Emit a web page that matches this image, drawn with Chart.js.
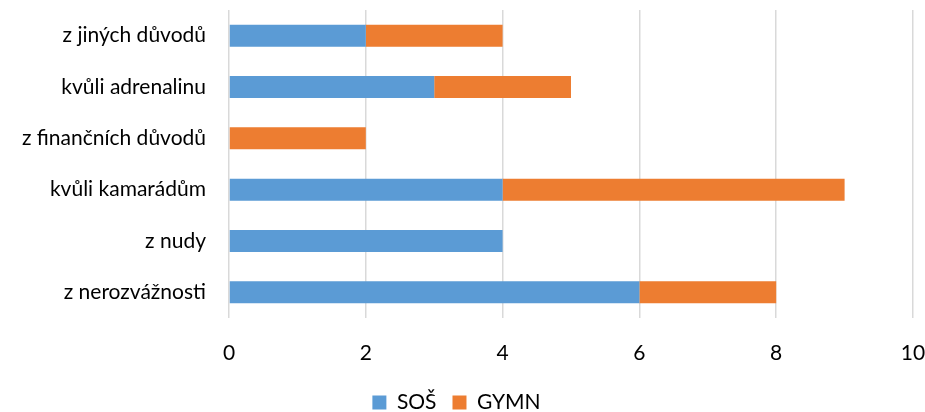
<!DOCTYPE html>
<html lang="cs">
<head>
  <meta charset="UTF-8">
  <title>Důvody</title>
  <script src="https://cdn.jsdelivr.net/npm/chart.js"></script>
  <style>
    body { margin: 0; background: #fff; }
    #wrap { width: 925px; height: 412px; }
  </style>
</head>
<body>
  <div id="wrap"><canvas id="chart" width="925" height="412"></canvas></div>
  <script>
    // categories top to bottom
    const categories = ['z jiných důvodů', 'kvůli adrenalinu', 'z finančních důvodů', 'kvůli kamarádům', 'z nudy', 'z nerozvážnosti'];
    const sosValues = [2, 3, 0, 4, 4, 6];
    const gymnValues = [2, 2, 2, 5, 0, 2];
    const xTicks = [0, 2, 4, 6, 8, 10];

    const font = { family: 'Lato, "Open Sans", sans-serif', size: 21 };

    new Chart(document.getElementById('chart'), {
      type: 'bar',
      data: {
        labels: categories,
        datasets: [
          { label: 'SOŠ', data: sosValues, backgroundColor: '#5B9BD5' },
          { label: 'GYMN', data: gymnValues, backgroundColor: '#ED7D31' }
        ]
      },
      options: {
        indexAxis: 'y',
        responsive: false,
        animation: false,
        barPercentage: 0.43,
        categoryPercentage: 1,
        // negative bottom pushes the legend down a bit, like in the original
        layout: { padding: { top: 10, right: 12, left: 0, bottom: -11 } },
        scales: {
          x: {
            stacked: true,
            min: 0,
            max: 10,
            afterBuildTicks: axis => { axis.ticks = xTicks.map(v => ({ value: v })); },
            afterFit: axis => {
              axis.height = 58;
              axis.paddingLeft = 0;
              axis.paddingRight = 0;
            },
            grid: { color: '#d9d9d9', lineWidth: 1.5, drawTicks: false },
            border: { display: false },
            ticks: { color: '#000', font: font, padding: 23 }
          },
          y: {
            stacked: true,
            afterFit: axis => {
              axis.width = 229;
              axis.paddingTop = 0;
              axis.paddingBottom = 0;
            },
            grid: { display: false, drawTicks: false },
            border: { display: false },
            ticks: { color: '#000', font: font, padding: 23 }
          }
        },
        plugins: {
          legend: {
            position: 'bottom',
            labels: { color: '#000', font: font, boxWidth: 14, boxHeight: 14, padding: 16 }
          },
          tooltip: { enabled: false }
        }
      }
    });
  </script>
</body>
</html>
